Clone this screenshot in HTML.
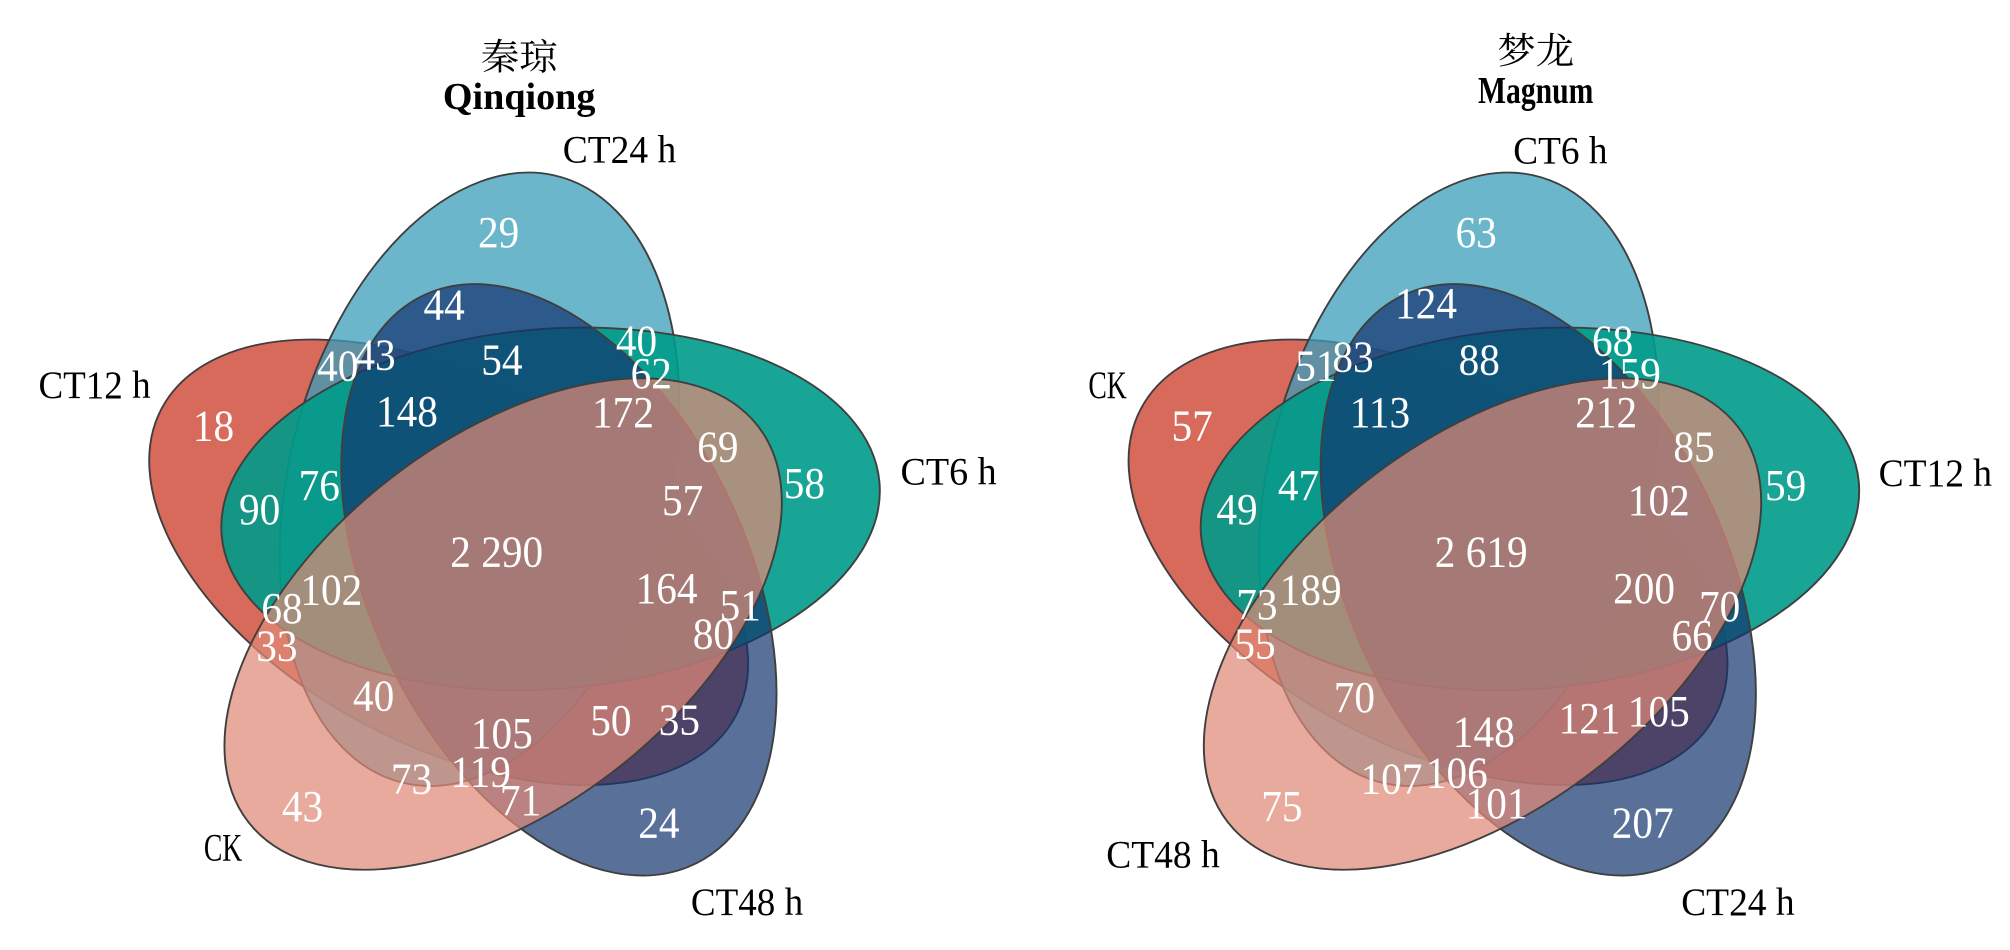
<!DOCTYPE html>
<html><head><meta charset="utf-8"><style>
html,body{margin:0;padding:0;background:#fff;}
svg{display:block;}
.n{font-family:"Liberation Serif",serif;font-size:56px;fill:#fff;text-anchor:middle;}
.c{font-family:"Liberation Serif",serif;font-size:64px;fill:#000;}
.t{font-family:"Liberation Serif","Noto Serif CJK SC",serif;fill:#000;text-anchor:middle;}
</style></head><body>
<svg width="2010" height="950" viewBox="0 0 3136 1568" preserveAspectRatio="none" xmlns="http://www.w3.org/2000/svg">
<defs>
<g id="venn" stroke="#3f3f3f" stroke-width="3">
<ellipse cx="700" cy="928" rx="515" ry="297" transform="rotate(31 700 928)" fill="#d15040" fill-opacity="0.85"/>
<ellipse cx="748" cy="791" rx="515" ry="297" transform="rotate(-77 748 791)" fill="#3a9db9" fill-opacity="0.75"/>
<ellipse cx="859" cy="840" rx="515" ry="297" transform="rotate(-5 859 840)" fill="#009b89" fill-opacity="0.9"/>
<ellipse cx="872" cy="957" rx="515" ry="297" transform="rotate(67 872 957)" fill="#13336e" fill-opacity="0.7"/>
<ellipse cx="785" cy="1030" rx="515" ry="297" transform="rotate(-41 785 1030)" fill="#df8976" fill-opacity="0.72"/>
</g>
</defs>

<!-- LEFT -->
<use href="#venn"/>
<g class="n">
<text transform="translate(778,408) scale(1.15,1.3)">29</text>
<text transform="translate(693,527) scale(1.15,1.3)">44</text>
<text transform="translate(527,628) scale(1.15,1.3)">40</text>
<text transform="translate(585,610) scale(1.15,1.3)">43</text>
<text transform="translate(783,618) scale(1.15,1.3)">54</text>
<text transform="translate(993,587) scale(1.15,1.3)">40</text>
<text transform="translate(1016,640) scale(1.15,1.3)">62</text>
<text transform="translate(635,703) scale(1.15,1.3)">148</text>
<text transform="translate(972,705) scale(1.15,1.3)">172</text>
<text transform="translate(333,727) scale(1.15,1.3)">18</text>
<text transform="translate(1120,762) scale(1.15,1.3)">69</text>
<text transform="translate(1255,822) scale(1.15,1.3)">58</text>
<text transform="translate(405,865) scale(1.15,1.3)">90</text>
<text transform="translate(498,825) scale(1.15,1.3)">76</text>
<text transform="translate(1065,850) scale(1.15,1.3)">57</text>
<text transform="translate(775,935) scale(1.15,1.3)">2 290</text>
<text transform="translate(517,998) scale(1.15,1.3)">102</text>
<text transform="translate(1040,995) scale(1.15,1.3)">164</text>
<text transform="translate(440,1028) scale(1.15,1.3)">68</text>
<text transform="translate(1155,1023) scale(1.15,1.3)">51</text>
<text transform="translate(1113,1070) scale(1.15,1.3)">80</text>
<text transform="translate(432,1090) scale(1.15,1.3)">33</text>
<text transform="translate(583,1173) scale(1.15,1.3)">40</text>
<text transform="translate(783,1235) scale(1.15,1.3)">105</text>
<text transform="translate(953,1213) scale(1.15,1.3)">50</text>
<text transform="translate(1060,1212) scale(1.15,1.3)">35</text>
<text transform="translate(642,1310) scale(1.15,1.3)">73</text>
<text transform="translate(750,1298) scale(1.15,1.3)">119</text>
<text transform="translate(812,1345) scale(1.15,1.3)">71</text>
<text transform="translate(472,1355) scale(1.15,1.3)">43</text>
<text transform="translate(1028,1382) scale(1.15,1.3)">24</text>
</g>
<text class="c" x="878" y="268" textLength="177" lengthAdjust="spacingAndGlyphs">CT24 h</text>
<text class="c" x="60" y="657" textLength="175" lengthAdjust="spacingAndGlyphs">CT12 h</text>
<text class="c" x="1405" y="800" textLength="150" lengthAdjust="spacingAndGlyphs">CT6 h</text>
<text class="c" x="318" y="1420" textLength="60" lengthAdjust="spacingAndGlyphs">CK</text>
<text class="c" x="1078" y="1510" textLength="175" lengthAdjust="spacingAndGlyphs">CT48 h</text>
<text class="t" x="810" y="115" font-size="60">秦琼</text>
<text class="t" x="810" y="180" font-size="62" font-weight="bold" textLength="238" lengthAdjust="spacingAndGlyphs">Qinqiong</text>

<!-- RIGHT -->
<g transform="translate(1528,0)">
<use href="#venn"/>
</g>
<g transform="translate(1568,0)">
<g class="n">
<text transform="translate(735,408) scale(1.15,1.3)">63</text>
<text transform="translate(657,525) scale(1.15,1.3)">124</text>
<text transform="translate(485,628) scale(1.15,1.3)">51</text>
<text transform="translate(543,613) scale(1.15,1.3)">83</text>
<text transform="translate(740,618) scale(1.15,1.3)">88</text>
<text transform="translate(948,587) scale(1.15,1.3)">68</text>
<text transform="translate(975,640) scale(1.15,1.3)">159</text>
<text transform="translate(585,705) scale(1.15,1.3)">113</text>
<text transform="translate(938,705) scale(1.15,1.3)">212</text>
<text transform="translate(292,727) scale(1.15,1.3)">57</text>
<text transform="translate(1075,762) scale(1.15,1.3)">85</text>
<text transform="translate(1218,825) scale(1.15,1.3)">59</text>
<text transform="translate(362,865) scale(1.15,1.3)">49</text>
<text transform="translate(458,825) scale(1.15,1.3)">47</text>
<text transform="translate(1020,850) scale(1.15,1.3)">102</text>
<text transform="translate(743,935) scale(1.15,1.3)">2 619</text>
<text transform="translate(477,998) scale(1.15,1.3)">189</text>
<text transform="translate(997,995) scale(1.15,1.3)">200</text>
<text transform="translate(393,1022) scale(1.15,1.3)">73</text>
<text transform="translate(1115,1025) scale(1.15,1.3)">70</text>
<text transform="translate(1072,1073) scale(1.15,1.3)">66</text>
<text transform="translate(390,1087) scale(1.15,1.3)">55</text>
<text transform="translate(545,1175) scale(1.15,1.3)">70</text>
<text transform="translate(747,1232) scale(1.15,1.3)">148</text>
<text transform="translate(912,1210) scale(1.15,1.3)">121</text>
<text transform="translate(1020,1198) scale(1.15,1.3)">105</text>
<text transform="translate(603,1310) scale(1.15,1.3)">107</text>
<text transform="translate(705,1300) scale(1.15,1.3)">106</text>
<text transform="translate(767,1350) scale(1.15,1.3)">101</text>
<text transform="translate(432,1355) scale(1.15,1.3)">75</text>
<text transform="translate(995,1382) scale(1.15,1.3)">207</text>
</g>
<text class="c" x="793" y="270" textLength="147" lengthAdjust="spacingAndGlyphs">CT6 h</text>
<text class="c" x="130" y="657" textLength="60" lengthAdjust="spacingAndGlyphs">CK</text>
<text class="c" x="1363" y="802" textLength="177" lengthAdjust="spacingAndGlyphs">CT12 h</text>
<text class="c" x="158" y="1432" textLength="177" lengthAdjust="spacingAndGlyphs">CT48 h</text>
<text class="c" x="1055" y="1510" textLength="177" lengthAdjust="spacingAndGlyphs">CT24 h</text>
<text class="t" x="828" y="105" font-size="60">梦龙</text>
<text class="t" x="828" y="170" font-size="62" font-weight="bold" textLength="180" lengthAdjust="spacingAndGlyphs">Magnum</text>
</g>
</svg>
</body></html>
